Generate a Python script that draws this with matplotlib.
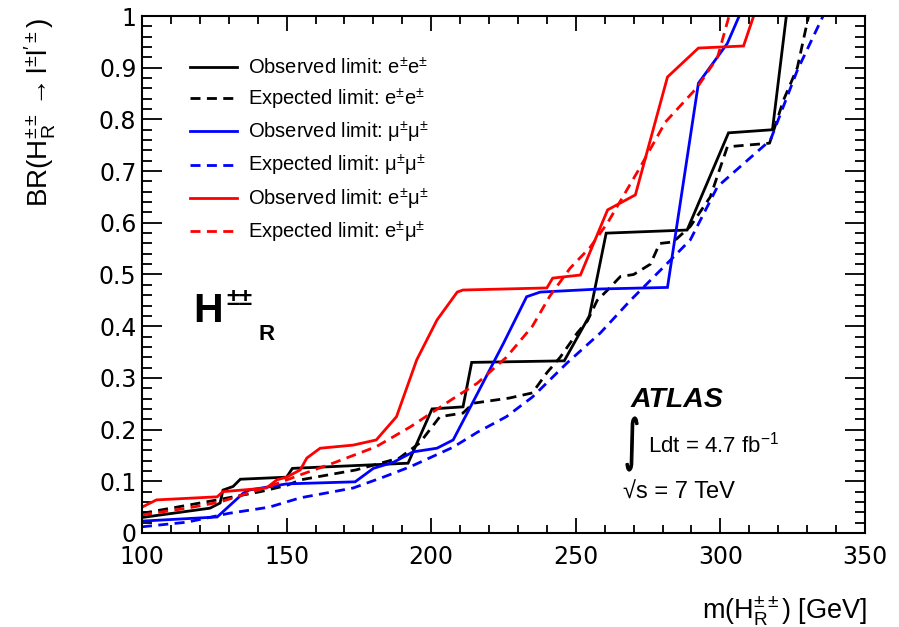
import matplotlib
matplotlib.use("Agg")
import matplotlib.pyplot as plt
from matplotlib.ticker import MultipleLocator, FuncFormatter
from matplotlib.textpath import TextPath
from matplotlib.patches import PathPatch
from matplotlib.font_manager import FontProperties
from matplotlib.transforms import Affine2D, IdentityTransform

plt.rcParams['font.family'] = ['Liberation Sans', 'DejaVu Sans']
plt.rcParams['mathtext.fontset'] = 'custom'
plt.rcParams['mathtext.rm'] = 'Liberation Sans'
plt.rcParams['mathtext.it'] = 'Liberation Sans:italic'
plt.rcParams['mathtext.bf'] = 'Liberation Sans:bold'
plt.rcParams['mathtext.sf'] = 'Liberation Sans'
plt.rcParams['mathtext.default'] = 'regular'

# ---- data ----
obs_ee_x = [100, 123.5, 127, 128, 131.5, 134, 150, 152, 192, 200.3, 211, 214, 246, 254.7, 260.5, 288.5, 302.8, 318, 322.8]
obs_ee_y = [0.03, 0.048, 0.058, 0.083, 0.09, 0.104, 0.108, 0.125, 0.135, 0.24, 0.244, 0.33, 0.333, 0.42, 0.58, 0.586, 0.774, 0.78, 1.0]

exp_ee_x = [100, 126, 141, 150, 155, 174, 189, 196, 203, 211, 214.5, 227, 235, 240, 244.6, 250.5, 254, 257.4, 261, 265.4, 270, 275.8, 279, 283.7, 289.6, 296.5, 302.4, 317, 321.8, 326.6, 330.5]
exp_ee_y = [0.038, 0.064, 0.08, 0.092, 0.103, 0.122, 0.145, 0.174, 0.225, 0.232, 0.251, 0.261, 0.271, 0.31, 0.34, 0.387, 0.41, 0.45, 0.47, 0.496, 0.5, 0.52, 0.56, 0.563, 0.593, 0.65, 0.747, 0.754, 0.837, 0.9, 1.0]

obs_mm_x = [100, 126, 135, 137, 150, 173.7, 180, 187, 193.8, 202, 207.6, 216, 225, 233, 237.7, 258.5, 281.7, 292.4, 302.4, 306.5]
obs_mm_y = [0.023, 0.031, 0.077, 0.083, 0.095, 0.099, 0.125, 0.137, 0.157, 0.164, 0.18, 0.27, 0.367, 0.457, 0.466, 0.472, 0.475, 0.87, 0.947, 1.0]

exp_mm_x = [100, 115.6, 130, 144, 154.7, 173, 183.4, 192.7, 207.6, 216, 226, 235, 247, 258.5, 268.9, 281.7, 289.6, 299, 317.3, 326.6, 335.5]
exp_mm_y = [0.012, 0.021, 0.038, 0.05, 0.068, 0.087, 0.108, 0.128, 0.166, 0.195, 0.225, 0.263, 0.329, 0.387, 0.45, 0.522, 0.567, 0.67, 0.76, 0.895, 1.0]

obs_em_x = [100, 105, 126, 128, 143, 146.7, 150, 154.7, 157, 161.6, 173, 181, 188, 195, 202, 209, 211, 240, 242, 251.6, 261, 270.6, 281.7, 292.4, 308, 311.5]
obs_em_y = [0.05, 0.064, 0.07, 0.08, 0.087, 0.103, 0.108, 0.122, 0.145, 0.164, 0.17, 0.18, 0.225, 0.335, 0.412, 0.466, 0.47, 0.474, 0.493, 0.499, 0.625, 0.654, 0.882, 0.938, 0.942, 1.0]

exp_em_x = [100, 115.6, 127, 144, 155, 166, 181, 192.7, 207.6, 216, 226, 235, 241, 248, 255, 261, 272, 281, 292, 299, 303]
exp_em_y = [0.035, 0.048, 0.06, 0.09, 0.113, 0.135, 0.167, 0.205, 0.26, 0.29, 0.34, 0.40, 0.458, 0.512, 0.553, 0.6, 0.705, 0.795, 0.862, 0.92, 1.0]

labels = ['Observed limit: e$^{\\pm}$e$^{\\pm}$',
          'Expected limit: e$^{\\pm}$e$^{\\pm}$',
          'Observed limit: μ$^{\\pm}$μ$^{\\pm}$',
          'Expected limit: μ$^{\\pm}$μ$^{\\pm}$',
          'Observed limit: e$^{\\pm}$μ$^{\\pm}$',
          'Expected limit: e$^{\\pm}$μ$^{\\pm}$']

W, H = 899, 627
fig = plt.figure(figsize=(W / 100, H / 100), dpi=100)
ax = fig.add_axes([142 / W, 1 - 533 / H, 723 / W, 517 / H])

dash = (0, (3.6, 2.3))
lw = 2.0
series = [
    (obs_ee_x, obs_ee_y, 'black', '-'),
    (exp_ee_x, exp_ee_y, 'black', dash),
    (obs_mm_x, obs_mm_y, '#0000ff', '-'),
    (exp_mm_x, exp_mm_y, '#0000ff', dash),
    (obs_em_x, obs_em_y, '#ff0000', '-'),
    (exp_em_x, exp_em_y, '#ff0000', dash),
]
for (x, y, c, ls), lab in zip(series, labels):
    ax.plot(x, y, color=c, linestyle=ls, linewidth=lw, label=lab, solid_joinstyle='miter')

ax.set_xlim(100, 350)
ax.set_ylim(0, 1)

for s in ax.spines.values():
    s.set_linewidth(1.5)

ax.xaxis.set_major_locator(MultipleLocator(50))
ax.xaxis.set_minor_locator(MultipleLocator(10))
ax.yaxis.set_major_locator(MultipleLocator(0.1))
ax.yaxis.set_minor_locator(MultipleLocator(0.02))
ax.yaxis.set_major_formatter(FuncFormatter(lambda v, p: f'{v:g}'))

ax.tick_params(axis='x', which='major', direction='in', length=11, width=1.3,
               top=True, bottom=True, labelsize=17, pad=8.5, labelfontfamily='DejaVu Sans')
ax.tick_params(axis='x', which='minor', direction='in', length=6, width=1.3,
               top=True, bottom=True)
ax.tick_params(axis='y', which='major', direction='in', length=14.5, width=1.3,
               left=True, right=True, labelsize=17, pad=4, labelfontfamily='DejaVu Sans')
ax.tick_params(axis='y', which='minor', direction='in', length=7, width=1.3,
               left=True, right=True)

leg = ax.legend(loc='upper left', bbox_to_anchor=((190 - 142) / 723, (533 - 57) / 517),
                frameon=False, fontsize=14.5, handlelength=2.35, handletextpad=0.55,
                labelspacing=0.40, borderpad=0, borderaxespad=0)

# axis titles
fig.text(867 / W, 1 - 618 / H, 'm($H^{\\pm\\pm}_{R}$) [GeV]', ha='right', va='baseline', fontsize=19.5)
fig.text(23 / W, 1 - 18 / H, 'BR($H^{\\pm\\pm}_{R}\\rightarrow l^{\\pm}l^{\\prime\\pm}$)',
         rotation=90, ha='left', va='top', fontsize=20)

# H++_R label
fig.text(193 / W, 1 - 322 / H, 'H', fontsize=29.5, fontweight='bold', ha='left', va='baseline')
fig.text(226 / W, 1 - 305 / H, '±±', fontsize=17, fontweight='bold', ha='left', va='baseline')
fig.text(258 / W, 1 - 340 / H, 'R', fontsize=16, fontweight='bold', ha='left', va='baseline')

# ATLAS block
fig.text(631 / W, 1 - 407 / H, 'ATLAS', fontsize=20.5, fontweight='bold', fontstyle='italic',
         ha='left', va='baseline')

# tall integral sign (glyph outline stretched into its box, in pixel coords)
ipath = TextPath((0, 0), '∫', size=30, prop=FontProperties(family='DejaVu Sans'))
ext = ipath.get_extents()
bx0, bx1, by_top, by_bot = 626, 638, 417, 471
sx = (bx1 - bx0) / ext.width
sy = (by_bot - by_top) / ext.height
tr = Affine2D().translate(-ext.x0, -ext.y0).scale(sx, sy).translate(bx0, H - by_bot)
fig.add_artist(PathPatch(tr.transform_path(ipath), facecolor='black', edgecolor='black',
                         linewidth=0.9, transform=IdentityTransform()))

fig.text(648 / W, 1 - 453 / H, 'Ldt = 4.7 fb$^{-1}$', fontsize=16, ha='left', va='baseline')
fig.text(623 / W, 1 - 499 / H, '√s = 7 TeV', fontsize=17, ha='left', va='baseline')

fig.savefig('out.png', dpi=100)
